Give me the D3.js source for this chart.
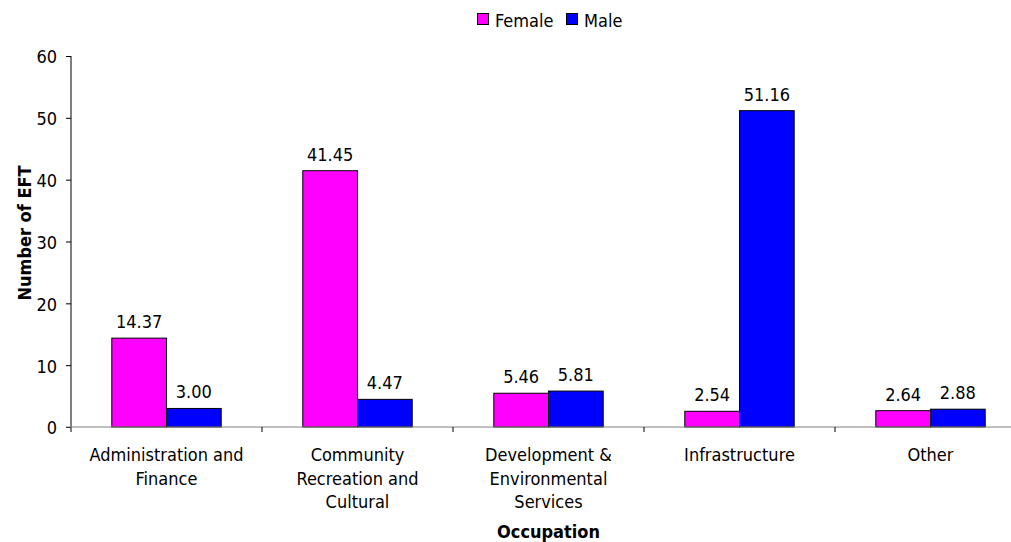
<!DOCTYPE html>
<html>
<head>
<meta charset="utf-8">
<script src="https://cdn.jsdelivr.net/npm/d3@7"></script>
<style>
  html, body { margin: 0; padding: 0; background: #fff; }
  svg { display: block; }
  text { font-family: "DejaVu Sans Condensed", "DejaVu Sans", sans-serif; font-stretch: condensed; fill: #000; }
</style>
</head>
<body>
<svg id="chart" width="1011" height="542"></svg>
<script>
// Employee full-time equivalents by occupation and gender
const categories = [
  "Administration and Finance",
  "Community Recreation and Cultural",
  "Development & Environmental Services",
  "Infrastructure",
  "Other"
];
const seriesNames = ["Female", "Male"];
const female = [14.37, 41.45, 5.46, 2.54, 2.64];
const male = [3.00, 4.47, 5.81, 51.16, 2.88];
const yTicks = [0, 10, 20, 30, 40, 50, 60];
const colors = ["#FF00FF", "#0000FF"];

const values = [female, male];
const rows = categories.map((c, i) => ({
  category: c,
  items: seriesNames.map((s, j) => ({ series: s, value: values[j][i] }))
}));

const svg = d3.select("#chart");
const plot = { left: 71, right: 1026, top: 56, bottom: 427 };
const fontSize = 18;

const x0 = d3.scaleBand()
  .domain(categories)
  .range([plot.left, plot.right])
  .paddingInner(0)
  .paddingOuter(0);

const x1 = d3.scaleBand()
  .domain(seriesNames)
  .range([0, x0.bandwidth()])
  .paddingInner(0)
  .paddingOuter(0.746);

const y = d3.scaleLinear().domain([0, 60]).range([plot.bottom, plot.top]);
const color = d3.scaleOrdinal().domain(seriesNames).range(colors);

// Y axis
const yAxis = svg.append("g")
  .attr("transform", `translate(${plot.left},0)`)
  .call(d3.axisLeft(y).tickValues(yTicks).tickSize(5).tickPadding(9).tickFormat(d3.format("d")));
yAxis.select(".domain").attr("stroke", "#000").attr("d", `M0,${plot.top}V${plot.bottom + 5}`);
yAxis.selectAll(".tick line").attr("stroke", "#000");
yAxis.selectAll(".tick text")
  .attr("font-size", fontSize)
  .attr("font-family", null)
  .attr("dy", "0.38em");
yAxis.attr("font-family", null).attr("font-size", null);

// Bars
const groups = svg.append("g").selectAll("g")
  .data(rows)
  .join("g")
  .attr("transform", d => `translate(${x0(d.category)},0)`);

groups.selectAll("rect")
  .data(d => d.items)
  .join("rect")
  .attr("x", d => x1(d.series))
  .attr("y", d => y(d.value))
  .attr("width", x1.bandwidth())
  .attr("height", d => y(0) - y(d.value))
  .attr("fill", d => color(d.series))
  .attr("stroke", "#000")
  .attr("stroke-width", 1);

groups.selectAll("text.value")
  .data(d => d.items)
  .join("text")
  .attr("class", "value")
  .attr("x", d => x1(d.series) + x1.bandwidth() / 2)
  .attr("y", d => y(d.value) - 10)
  .attr("text-anchor", "middle")
  .attr("font-size", fontSize)
  .text(d => d.value.toFixed(2));

// X axis
const xAxis = svg.append("g");
xAxis.append("line")
  .attr("x1", plot.left - 5).attr("x2", plot.right)
  .attr("y1", y(0)).attr("y2", y(0))
  .attr("stroke", "#808080").attr("stroke-width", 1);
xAxis.selectAll("line.tick")
  .data(categories.slice(1).concat([null]))
  .join("line")
  .attr("class", "tick")
  .attr("x1", (d, i) => plot.left + x0.step() * (i + 1))
  .attr("x2", (d, i) => plot.left + x0.step() * (i + 1))
  .attr("y1", y(0)).attr("y2", y(0) + 5)
  .attr("stroke", "#000");

// Category labels wrapped to fit the band
const maxLabelWidth = 165;
const lineHeight = 23.5;
categories.forEach(c => {
  const t = xAxis.append("text")
    .attr("text-anchor", "middle")
    .attr("font-size", fontSize)
    .attr("x", x0(c) + x0.bandwidth() / 2)
    .attr("y", 461);
  const words = c.split(" ");
  let line = [];
  let lineNo = 0;
  let tspan = t.append("tspan").attr("x", x0(c) + x0.bandwidth() / 2).attr("dy", 0);
  words.forEach(w => {
    line.push(w);
    tspan.text(line.join(" "));
    if (tspan.node().getComputedTextLength() > maxLabelWidth && line.length > 1) {
      line.pop();
      tspan.text(line.join(" "));
      line = [w];
      lineNo++;
      tspan = t.append("tspan").attr("x", x0(c) + x0.bandwidth() / 2).attr("dy", lineHeight).text(w);
    }
  });
});

// Axis titles
svg.append("text")
  .attr("x", (plot.left + plot.right) / 2)
  .attr("y", 538)
  .attr("text-anchor", "middle")
  .attr("font-size", fontSize)
  .attr("font-weight", "bold")
  .text("Occupation");

svg.append("text")
  .attr("transform", "translate(31,233) rotate(-90)")
  .attr("text-anchor", "middle")
  .attr("font-size", fontSize)
  .attr("font-weight", "bold")
  .text("Number of EFT");

// Legend
const legendItems = [
  { name: "Female", x: 477 },
  { name: "Male", x: 566 }
];
const legend = svg.append("g");
legendItems.forEach((item, i) => {
  legend.append("rect")
    .attr("x", item.x + 0.5).attr("y", 13.5)
    .attr("width", 11).attr("height", 11)
    .attr("fill", colors[i])
    .attr("stroke", "#000");
  legend.append("text")
    .attr("x", item.x + 18)
    .attr("y", 26.5)
    .attr("font-size", fontSize)
    .text(item.name);
});
</script>
</body>
</html>
